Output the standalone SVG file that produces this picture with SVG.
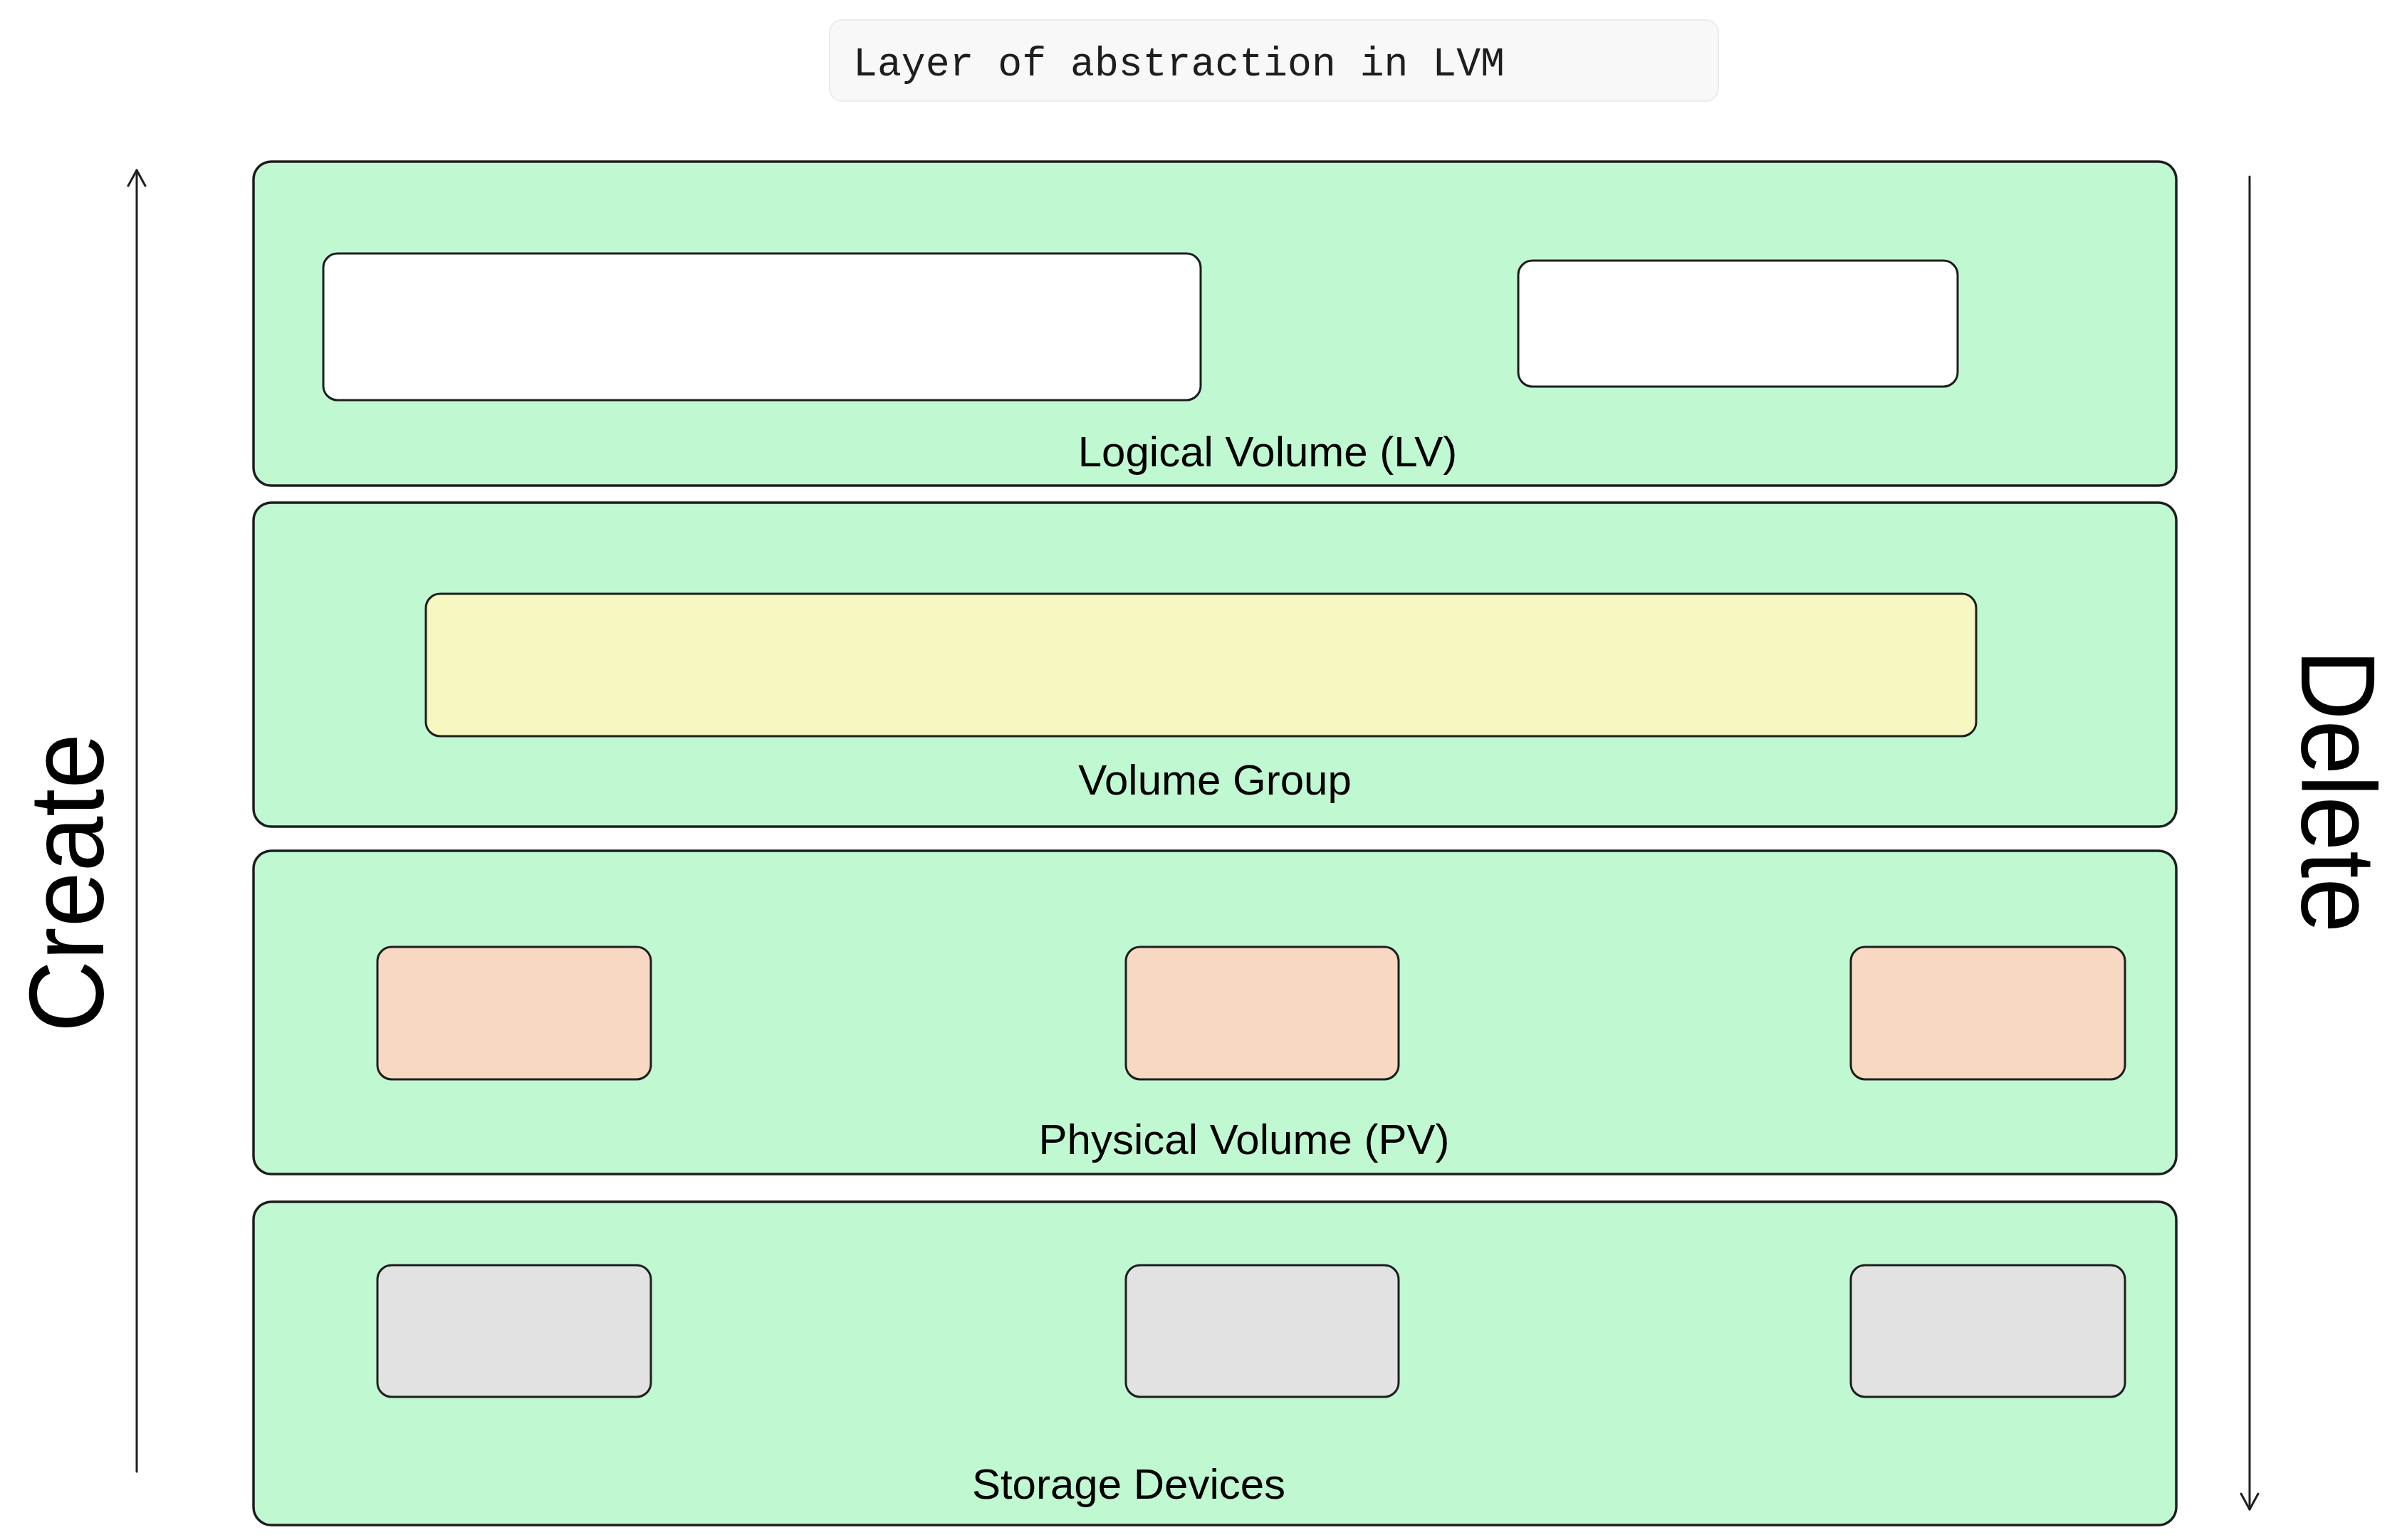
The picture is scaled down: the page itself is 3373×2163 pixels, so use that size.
<svg xmlns="http://www.w3.org/2000/svg" width="3373" height="2163" viewBox="0 0 3373 2163">
  <defs>
    <marker id="open-arrow" viewBox="-26 -16 30 32" refX="0" refY="0" markerWidth="30" markerHeight="32" markerUnits="userSpaceOnUse" orient="auto">
      <path d="M-22,-12 L0,0 L-22,12" fill="none" stroke="#1e1e1e" stroke-width="3" stroke-linecap="round" stroke-linejoin="round"/>
    </marker>
  </defs>
  <style>
    .layer { fill: #c0f8d2; stroke: #1e1e1e; stroke-width: 3.5; }
    .box { stroke: #1e1e1e; stroke-width: 3; }
    .white { fill: #ffffff; }
    .yellow { fill: #f6f7c1; }
    .peach { fill: #f7d8c2; }
    .gray { fill: #e2e2e2; }
    .label { font-family: "Liberation Sans", Arial, sans-serif; font-size: 60px; fill: #000000; text-anchor: middle; }
    .big { font-family: "Liberation Sans", Arial, sans-serif; font-size: 148px; fill: #000000; text-anchor: middle; }
    .title { font-family: "Liberation Mono", "DejaVu Sans Mono", monospace; font-size: 58px; fill: #1e1e1e; }
    .conn { fill: none; stroke: #1e1e1e; stroke-width: 3; stroke-linecap: round; }
  </style>
  <rect width="3373" height="2163" fill="#ffffff"/>

  <g id="title">
    <rect x="1165" y="28" width="1248" height="114" rx="18" fill="#f8f8f8" stroke="#ececec" stroke-width="2"/>
    <text class="title" x="1198" y="106" textLength="915" lengthAdjust="spacingAndGlyphs">Layer of abstraction in LVM</text>
  </g>

  <g id="layer-lv">
    <rect class="layer" x="356" y="227" width="2700" height="455" rx="25"/>
    <rect class="box white" x="454" y="356" width="1232" height="206" rx="20"/>
    <rect class="box white" x="2132" y="366" width="617" height="177" rx="20"/>
    <text class="label" x="1780" y="655">Logical Volume (LV)</text>
  </g>

  <g id="layer-vg">
    <rect class="layer" x="356" y="706" width="2700" height="455" rx="25"/>
    <rect class="box yellow" x="598" y="834" width="2177" height="200" rx="20"/>
    <text class="label" x="1706" y="1116">Volume Group</text>
  </g>

  <g id="layer-pv">
    <rect class="layer" x="356" y="1195" width="2700" height="454" rx="25"/>
    <rect class="box peach" x="530" y="1330" width="384" height="186" rx="20"/>
    <rect class="box peach" x="1581" y="1330" width="383" height="186" rx="20"/>
    <rect class="box peach" x="2599" y="1330" width="385" height="186" rx="20"/>
    <text class="label" x="1747" y="1621">Physical Volume (PV)</text>
  </g>

  <g id="layer-sd">
    <rect class="layer" x="356" y="1688" width="2700" height="454" rx="25"/>
    <rect class="box gray" x="530" y="1777" width="384" height="185" rx="20"/>
    <rect class="box gray" x="1581" y="1777" width="383" height="185" rx="20"/>
    <rect class="box gray" x="2599" y="1777" width="385" height="185" rx="20"/>
    <text class="label" x="1585" y="2105">Storage Devices</text>
  </g>

  <g id="connectors">
    <line class="conn" x1="192" y1="2067" x2="192" y2="239" marker-end="url(#open-arrow)"/>
    <line class="conn" x1="3159" y1="248" x2="3159" y2="2120" marker-end="url(#open-arrow)"/>
  </g>

  <g id="label-create">
    <text class="big" transform="translate(145,1240) rotate(-90)" x="0" y="0" textLength="420" lengthAdjust="spacingAndGlyphs">Create</text>
  </g>
  <g id="label-delete">
    <text class="big" transform="translate(3232,1111) rotate(90)" x="0" y="0" textLength="398" lengthAdjust="spacingAndGlyphs">Delete</text>
  </g>
</svg>
